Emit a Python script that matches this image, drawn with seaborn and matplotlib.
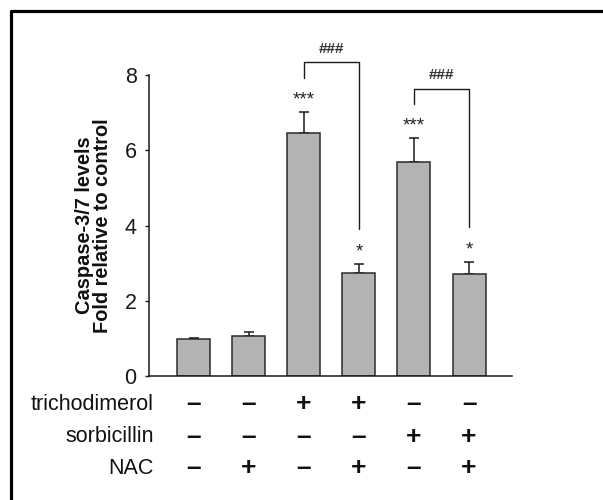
import matplotlib
matplotlib.use("Agg")
import matplotlib.pyplot as plt
import matplotlib.transforms as mtransforms
from matplotlib.lines import Line2D
import seaborn as sns
import pandas as pd
import numpy as np

# ---- data ----
groups = ["C", "N", "T", "T+N", "S", "S+N"]
means = [0.98, 1.06, 6.47, 2.74, 5.68, 2.70]
errs = [0.04, 0.12, 0.55, 0.23, 0.64, 0.33]
stars = ["", "", "***", "*", "***", "*"]
row_labels = ["trichodimerol", "sorbicillin", "NAC"]
trichodimerol = ["–", "–", "+", "+", "–", "–"]
sorbicillin = ["–", "–", "–", "–", "+", "+"]
nac = ["–", "+", "–", "+", "–", "+"]
brackets = [(2, 3, "###"), (4, 5, "###")]
yticks = [0, 2, 4, 6, 8]

sns.set_theme(style="ticks")
plt.rcParams["font.family"] = ["Liberation Sans", "DejaVu Sans"]

fig = plt.figure(figsize=(6.03, 5.0), dpi=100)
ax = fig.add_axes([149 / 603, 1 - 376 / 500, (512 - 149) / 603, (376 - 75) / 500])

df = pd.DataFrame({"group": groups, "value": means})
sns.barplot(data=df, x="group", y="value", order=groups, color="#b3b3b3",
            saturation=1, width=0.6, errorbar=None, edgecolor="#2b2b2b",
            linewidth=1.1, ax=ax, zorder=2)
xs = np.arange(len(groups))
ax.errorbar(xs, means, yerr=[np.zeros(len(errs)), errs], fmt="none",
            ecolor="#1a1a1a", elinewidth=1.1, capsize=3.5, capthick=1.1, zorder=1)

ax.set_xlim(-0.81, len(groups) - 1 + 0.78)
ax.set_ylim(0, 8)
ax.set_yticks(yticks)
ax.set_yticklabels([str(t) for t in yticks], fontsize=15.5)
ax.tick_params(axis="y", length=3, width=1, pad=6, direction="out", colors="#1a1a1a")
ax.set_xticks([])
ax.set_xlabel("")
ax.set_ylabel("")
for s in ["top", "right"]:
    ax.spines[s].set_visible(False)
for s in ["left", "bottom"]:
    ax.spines[s].set_linewidth(1.1)
    ax.spines[s].set_color("#1a1a1a")

tops = [m + e for m, e in zip(means, errs)]

# significance stars
for x, t, s in zip(xs, tops, stars):
    if s:
        ax.text(x, t + 0.32, s, ha="center", va="center", fontsize=13.5,
                color="#222222", clip_on=False)

# brackets
for i, j, lab in brackets:
    yl = tops[i] + 0.9
    yt = yl + 0.42
    yr = tops[j] + 0.93
    ax.plot([i, i, j, j], [yl, yt, yt, yr], color="#1a1a1a", lw=1.0, clip_on=False)
    ax.text((i + j) / 2, yt + 0.36, lab, ha="center", va="center", fontsize=11,
            fontweight="bold", color="#333333", clip_on=False)

# condition table
trans = mtransforms.blended_transform_factory(ax.transData, ax.transAxes)
row_y = [(376 - 404) / 301, (376 - 437) / 301, (376 - 468) / 301]
rows = [trichodimerol, sorbicillin, nac]
for lab, vals, yy in zip(row_labels, rows, row_y):
    ax.text(0.014, yy, lab, transform=ax.transAxes, ha="right", va="center",
            fontsize=15.5, color="#111111")
    for x, v in zip(xs, vals):
        ax.text(x, yy, v, transform=trans, ha="center", va="center",
                fontsize=19, fontweight="bold", color="#111111")

# y label (two lines)
fig.text(84 / 603, 1 - 225 / 500, "Caspase-3/7 levels", rotation=90,
         ha="center", va="center", fontsize=14.4, fontweight="bold", color="#111111")
fig.text(103 / 603, 1 - 226 / 500, "Fold relative to control", rotation=90,
         ha="center", va="center", fontsize=14.4, fontweight="bold", color="#111111")

# outer frame
fig.add_artist(Line2D([11 / 603, 11 / 603, 1.0], [0.0, 1 - 11 / 500, 1 - 11 / 500],
                      transform=fig.transFigure, color="black", lw=2.3))

fig.savefig("out.png", dpi=100)
